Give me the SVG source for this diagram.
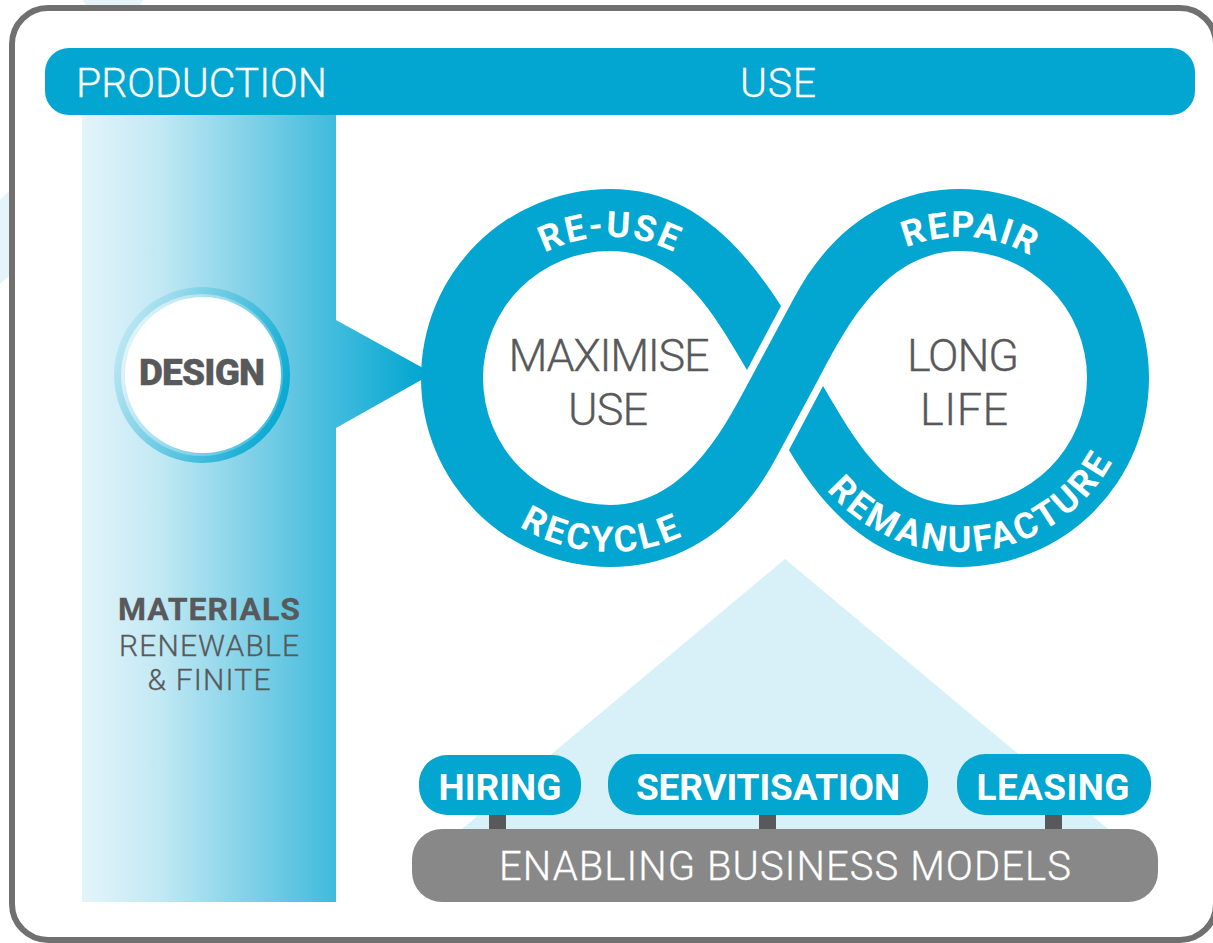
<svg xmlns="http://www.w3.org/2000/svg" width="1213" height="943" viewBox="0 0 1213 943">
<style>
text{font-family:"Roboto","Liberation Sans",sans-serif}
.l{font-weight:300;fill:#58595b;stroke:#58595b;stroke-width:.3;font-size:45px;text-anchor:middle}
.b{font-weight:700;fill:#fff;font-size:37px;text-anchor:middle}
.h{font-weight:300;fill:#fff;stroke:#fff;stroke-width:.3;font-size:41px}
.r{font-weight:700;fill:#fff;font-size:36px;text-anchor:middle}
.blue{fill:#02a6d0}
.post{fill:#58595b}
</style>
<defs>
<linearGradient id="col" x1="0" x2="1" y1="0" y2="0"><stop offset="0" stop-color="#e3f4fa"/><stop offset=".3" stop-color="#c3e9f4"/><stop offset=".75" stop-color="#70cbe4"/><stop offset="1" stop-color="#3fbadd"/></linearGradient>
<linearGradient id="tri" x1="0" x2="1" y1="0" y2="0"><stop offset="0" stop-color="#40bbdd"/><stop offset="1" stop-color="#02a6d0"/></linearGradient>
<linearGradient id="ring" x1="0" x2="1" y1="0.3" y2="0.7"><stop offset="0" stop-color="#bfe8f3"/><stop offset="1" stop-color="#02a6d0"/></linearGradient>
<linearGradient id="ring2" x1="0" x2="1" y1="0.3" y2="0.7"><stop offset="0" stop-color="#e6f6fa"/><stop offset="1" stop-color="#40bbdd"/></linearGradient>
<path id="a1" d="M469,378A141,141 0 0 1 751,378"/>
<path id="a2" d="M436,378A174,174 0 0 0 784,378"/>
<path id="a3" d="M819,378A141,141 0 0 1 1101,378"/>
<path id="a4" d="M786,378A174,174 0 0 0 1134,378"/>
</defs>
<rect width="1213" height="943" fill="#fff"/>
<path d="M83,0H143L140,6H86ZM0,200L10,190V275L0,284Z" fill="#e4f4f9"/>
<rect id="frame" x="12" y="8" width="1204" height="932" rx="36" fill="#fff" stroke="#707070" stroke-width="6"/>
<g id="materials">
<rect x="82" y="115" width="254" height="787" fill="url(#col)"/>
<text class="l" x="209" y="620" style="font-weight:700;font-size:32px" textLength="182">MATERIALS</text>
<text class="l" x="209" y="656" style="font-size:30px" textLength="180">RENEWABLE</text>
<text class="l" x="209" y="690" style="font-size:30px" textLength="123">&amp; FINITE</text>
</g>
<g id="bar">
<rect class="blue" x="45" y="48" width="1150" height="67" rx="24"/>
<text class="h" x="76" y="97" textLength="251">PRODUCTION</text>
<text class="h" x="740" y="97" textLength="76">USE</text>
</g>
<path id="models-backdrop" d="M785,559L1108,829H462Z" fill="#d8f0f7"/>
<g id="connectors">
<path d="M336,320L423,368V379L336,428Z" fill="url(#tri)"/>
<rect class="post" x="489" y="812" width="17" height="20"/>
<rect class="post" x="759" y="812" width="17" height="20"/>
<rect class="post" x="1045" y="812" width="17" height="20"/>
</g>
<g id="design">
<circle cx="202" cy="375" r="88" fill="url(#ring)"/>
<circle cx="202" cy="375" r="81" fill="url(#ring2)"/>
<circle cx="203" cy="375" r="78" fill="#fff"/>
<text class="l" x="202" y="385" style="font-weight:900;font-size:37px" textLength="126">DESIGN</text>
</g>
<g id="loop">
<path class="blue" d="M781,306C735,235 685,189 610,189A189,189 0 0 0 610,567C685,567 741,524 776,458L818,380C840,340 880,251 960,251A127,127 0 0 1 960,505C890,505 855,440 823,386L789,450C830,521 885,567 960,567A189,189 0 0 0 960,189C885,189 829,232 794,298L752,376C730,416 690,505 610,505A127,127 0 0 1 610,251C680,251 715,316 747,370Z"/>
<text class="r" letter-spacing="2"><textPath href="#a1" startOffset="50%">RE-USE</textPath></text>
<text class="r" letter-spacing="3" transform="rotate(3 610 378)"><textPath href="#a2" startOffset="50%">RECYCLE</textPath></text>
<text class="r" letter-spacing="1.5" transform="rotate(4 960 378)"><textPath href="#a3" startOffset="50%">REPAIR</textPath></text>
<text class="r" letter-spacing="3" transform="rotate(-6 960 378)"><textPath href="#a4" startOffset="50%">REMANUFACTURE</textPath></text>
</g>
<g id="maximise-use">
<text class="l" x="609" y="371" textLength="201">MAXIMISE</text>
<text class="l" x="608" y="425" textLength="80">USE</text>
</g>
<g id="long-life">
<text class="l" x="963" y="371" textLength="112">LONG</text>
<text class="l" x="964" y="425" textLength="88">LIFE</text>
</g>
<g id="hiring"><rect class="blue" x="419" y="755" width="162" height="60" rx="28"/><text class="b" x="500" y="800" textLength="123">HIRING</text></g>
<g id="servitisation"><rect class="blue" x="608" y="754" width="320" height="61" rx="28"/><text class="b" x="768" y="800" textLength="264">SERVITISATION</text></g>
<g id="leasing"><rect class="blue" x="957" y="754" width="194" height="61" rx="28"/><text class="b" x="1053" y="800" textLength="153">LEASING</text></g>
<g id="enabling"><rect x="412" y="829" width="746" height="73" rx="30" fill="#888"/><text x="785" y="880" style="font-weight:300;fill:#fff;stroke:#fff;stroke-width:.3;font-size:40px;text-anchor:middle" textLength="572">ENABLING BUSINESS MODELS</text></g>
</svg>
